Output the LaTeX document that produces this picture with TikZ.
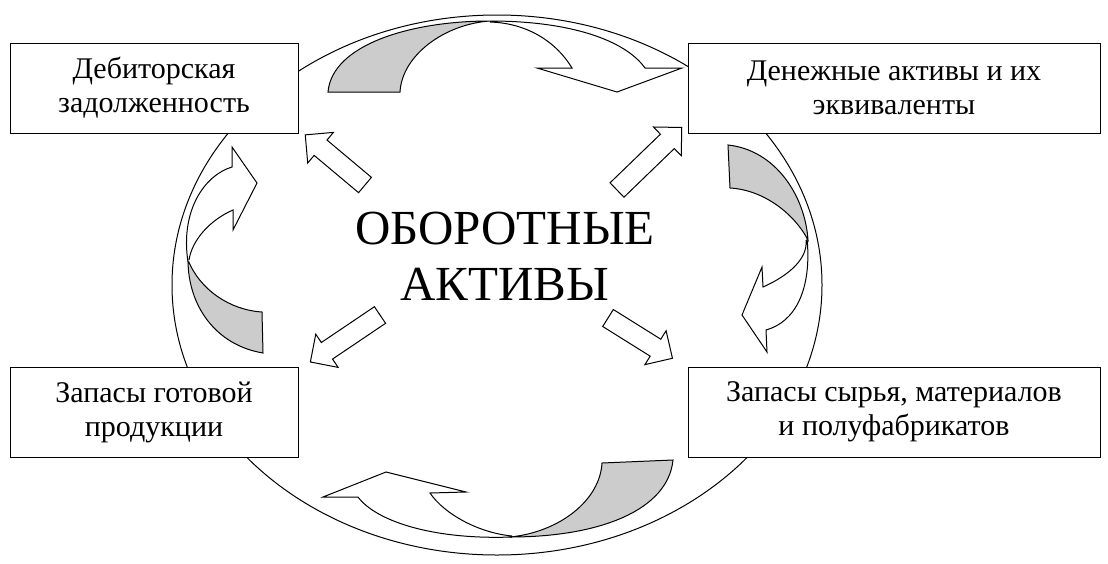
\documentclass[tikz,border=0pt]{standalone}
\usepackage{fontspec}
\setmainfont{Liberation Serif}
\newcommand\blockarrow[4]{% tail x, tail y, angle, length
    \begin{scope}[shift={(#1,#2)}, rotate=#3]
        \draw[line width=1pt, fill=white, line join=miter] (0,-10) -- (#4-20,-10) -- (#4-20,-20) -- (#4,0)
            -- (#4-20,20) -- (#4-20,10) -- (0,10) -- cycle;
    \end{scope}}
\begin{document}
\begin{tikzpicture}[x=1pt,y=-1pt,
    box/.style={draw, line width=1pt, fill=white, align=center, font=\fontsize{30}{34}\selectfont},
    band/.style={draw, line width=1pt, line join=miter},
    back/.style={band, fill=black!20}]
    \useasboundingbox (0,0) rectangle (1108,563);
    % ring
    \draw[line width=1pt] (497,285) ellipse [x radius=325, y radius=270];
    % boxes
    \node[box, minimum width=288pt, minimum height=90pt] (deb) at (154,88) {Дебиторская\\задолженность};
    \node[box, minimum width=412pt, minimum height=90pt] (money) at (894,88) {Денежные активы и их\\эквиваленты};
    \node[box, minimum width=288pt, minimum height=90pt] (goods) at (154,412) {Запасы готовой\\продукции};
    \node[box, minimum width=412pt, minimum height=90pt] (raw) at (894,412) {Запасы сырья, материалов\\и полуфабрикатов};
    \node[font=\fontsize{49}{56}\selectfont, align=center] (core) at (505,256) {ОБОРОТНЫЕ\\АКТИВЫ};
    % straight arrows
    \blockarrow{365}{185}{140}{78}
    \blockarrow{617}{190}{44}{90}
    \blockarrow{380}{315}{214}{84}
    \blockarrow{608}{318}{-32}{76}
    % top curved arrow
    \draw[back] (328,92) .. controls (332,45) and (410,21) .. (490,21)
        .. controls (445,24) and (402,55) .. (400,92) -- cycle;
    \draw[band, fill=white] (490,21) .. controls (570,21) and (625,40) .. (645,68)
        -- (682,68) -- (617,92) -- (537,68) -- (572,68)
        .. controls (555,40) and (525,23) .. (490,22);
    % right curved arrow
    \draw[back] (728,145) .. controls (775,150) and (805,195) .. (808,240)
        .. controls (795,215) and (765,190) .. (730,188) -- cycle;
    \draw[band, fill=white] (807,238) .. controls (812,290) and (795,322) .. (766,330)
        -- (767,352) -- (742,315) -- (762,267) -- (763,287)
        .. controls (790,275) and (808,258) .. (806,240);
    % bottom curved arrow
    \draw[back] (673,460) .. controls (668,510) and (600,537) .. (510,537)
        .. controls (560,532) and (600,500) .. (602,463) -- cycle;
    \draw[band, fill=white] (512,537) .. controls (430,540) and (375,520) .. (358,497)
        -- (323,497) -- (386,472) -- (466,492) -- (430,493)
        .. controls (445,515) and (480,533) .. (512,536);
    % left curved arrow
    \draw[back] (263,353) .. controls (215,345) and (188,305) .. (188,260)
        .. controls (200,290) and (230,310) .. (262,312) -- cycle;
    \draw[band, fill=white] (188,262) .. controls (180,210) and (205,175) .. (232,167)
        -- (232,147) -- (257,183) -- (233,230) -- (233,210)
        .. controls (210,220) and (192,240) .. (189,260);
\end{tikzpicture}
\end{document}
